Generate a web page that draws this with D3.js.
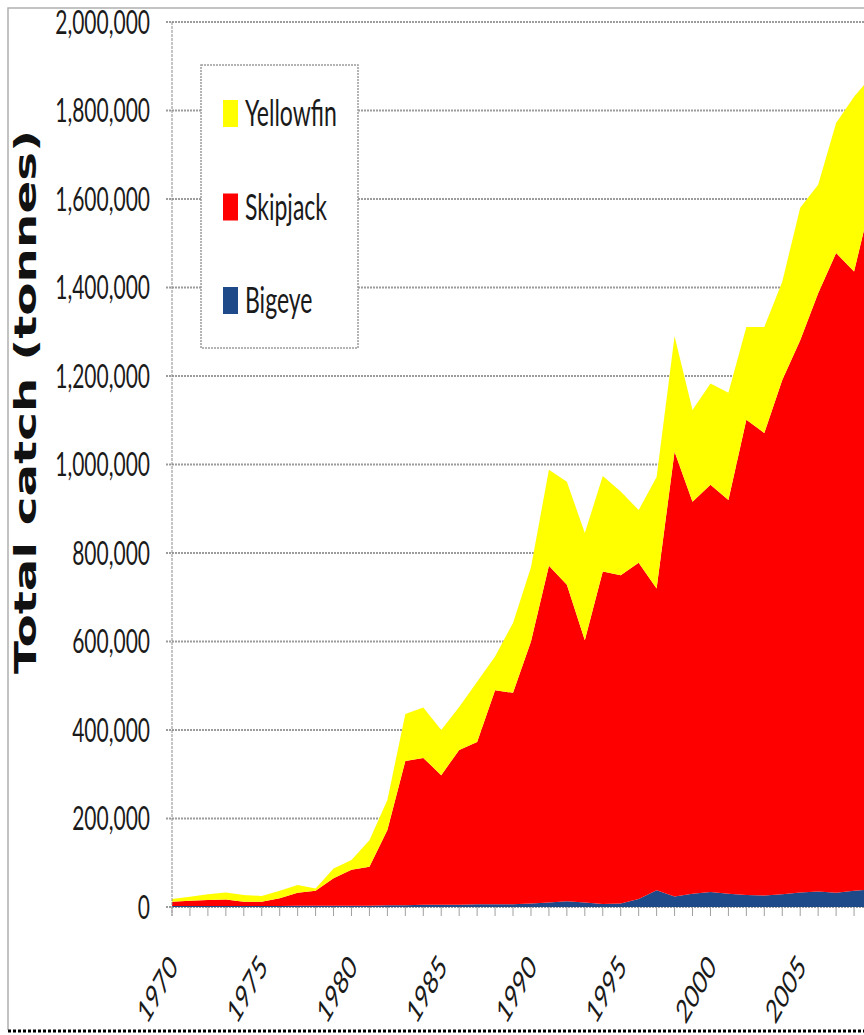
<!DOCTYPE html>
<html>
<head>
<meta charset="utf-8">
<script src="https://cdn.jsdelivr.net/npm/d3@7"></script>
<style>
  body { margin: 0; background: #fff; }
  svg { display: block; }
</style>
</head>
<body>
<script>
var width = 864,
  height = 1035;

// catch data (thousand tonnes)
var years = d3.range(1970, 2010);
var bigeye = [2, 2, 2, 2, 2, 2, 2, 3, 3, 3, 3, 3, 4, 4, 5, 5, 5, 6, 6, 6,
  8, 10, 13, 10, 7, 8, 18, 38, 24, 30, 34, 30, 27, 26, 29, 33, 35, 32, 37, 40];
var skipjack = [10, 12, 14, 15, 10, 10, 18, 29, 34, 62, 81, 88, 170, 326, 332, 293, 350, 367, 484, 478,
  592, 761, 715, 593, 751, 742, 760, 682, 1005, 886, 920, 890, 1074, 1045, 1162, 1248, 1352, 1446, 1399, 1565];
var yellowfin = [6, 9, 13, 16, 15, 13, 17, 18, 5, 22, 22, 60, 68, 106, 114, 102, 97, 136, 76, 158,
  168, 217, 233, 242, 216, 189, 119, 252, 261, 207, 229, 242, 210, 240, 222, 299, 245, 294, 395, 274];
var yTicks = [0, 200000, 400000, 600000, 800000, 1000000, 1200000, 1400000, 1600000, 1800000, 2000000];
var xLabels = [1970, 1975, 1980, 1985, 1990, 1995, 2000, 2005];
var seriesNames = ["Bigeye", "Skipjack", "Yellowfin"];
var seriesColors = { Bigeye: "#1f4a8a", Skipjack: "#ff0000", Yellowfin: "#ffff00" };

var rows = years.map(function (yr, i) {
  return { year: yr, Bigeye: bigeye[i] * 1000, Skipjack: skipjack[i] * 1000, Yellowfin: yellowfin[i] * 1000 };
});

// the picture is stretched vertically, so text gets the same stretch
var stretch = 1.56;

var svg = d3.select("body").append("svg")
  .attr("width", width)
  .attr("height", height);

var x = d3.scaleLinear().domain([1970, 2009]).range([172, 872]);
var y = d3.scaleLinear().domain([0, 2000000]).range([907, 22]);

// outer frame
svg.append("path")
  .attr("d", "M8,1030 V8 H" + width)
  .attr("fill", "none")
  .attr("stroke", "#b0b0b0")
  .attr("stroke-width", 1.5);

svg.append("line")
  .attr("x1", 8).attr("x2", width)
  .attr("y1", 1031).attr("y2", 1031)
  .attr("stroke", "#000")
  .attr("stroke-width", 3)
  .attr("stroke-dasharray", "3,2");

// gridlines
svg.append("g").selectAll("line")
  .data(yTicks)
  .enter()
  .append("line")
  .attr("x1", 166)
  .attr("x2", width)
  .attr("y1", function (d) { return y(d); })
  .attr("y2", function (d) { return y(d); })
  .attr("stroke", "#9c9c9c")
  .attr("stroke-width", 2)
  .attr("stroke-dasharray", "2,1");

// stacked areas
var stack = d3.stack().keys(seriesNames);
var layers = stack(rows);

var area = d3.area()
  .x(function (d) { return x(d.data.year); })
  .y0(function (d) { return y(d[0]); })
  .y1(function (d) { return y(d[1]); });

svg.append("g").selectAll("path")
  .data(layers)
  .enter()
  .append("path")
  .attr("d", area)
  .attr("fill", function (d) { return seriesColors[d.key]; });

// y axis line and ticks
svg.append("line")
  .attr("x1", 172).attr("x2", 172)
  .attr("y1", 22).attr("y2", 916)
  .attr("stroke", "#8a8a8a")
  .attr("stroke-width", 1)
  .attr("stroke-dasharray", "3,1");

svg.append("g").selectAll("line")
  .data(years)
  .enter()
  .append("line")
  .attr("x1", function (d) { return x(d); })
  .attr("x2", function (d) { return x(d); })
  .attr("y1", 907)
  .attr("y2", 916)
  .attr("stroke", "#a0a0a0")
  .attr("stroke-width", 1);

// y tick labels
svg.append("g").selectAll("text")
  .data(yTicks)
  .enter()
  .append("text")
  .attr("transform", function (d) { return "translate(150," + y(d) + ") scale(1," + stretch + ")"; })
  .attr("dy", "0.36em")
  .attr("text-anchor", "end")
  .attr("font-family", "Lato")
  .attr("font-size", 21)
  .attr("fill", "#1a1a1a")
  .text(d3.format(","));

// x tick labels
svg.append("g").selectAll("text")
  .data(xLabels)
  .enter()
  .append("text")
  .attr("transform", function (d) {
    return "translate(" + (x(d) + 7) + ",968) scale(1," + stretch + ") rotate(-49)";
  })
  .attr("text-anchor", "end")
  .attr("font-family", "Lato")
  .attr("font-size", 21)
  .attr("fill", "#1a1a1a")
  .text(function (d) { return d; });

// axis title
svg.append("text")
  .attr("transform", "translate(36,402) scale(1," + stretch + ") rotate(-90)")
  .attr("text-anchor", "middle")
  .attr("font-family", "DejaVu Sans")
  .attr("font-weight", "bold")
  .attr("font-size", 31)
  .attr("fill", "#111")
  .text("Total catch (tonnes)");

// legend
var legend = svg.append("g");

legend.append("rect")
  .attr("x", 201).attr("y", 65)
  .attr("width", 157).attr("height", 283)
  .attr("fill", "#fff")
  .attr("stroke", "#9c9c9c")
  .attr("stroke-width", 1.5)
  .attr("stroke-dasharray", "2,1");

var legendItems = ["Yellowfin", "Skipjack", "Bigeye"];

var item = legend.selectAll("g")
  .data(legendItems)
  .enter()
  .append("g")
  .attr("transform", function (d, i) { return "translate(0," + (i * 93.5) + ")"; });

item.append("rect")
  .attr("x", 223).attr("y", 100)
  .attr("width", 15).attr("height", 27)
  .attr("fill", function (d) { return seriesColors[d]; });

item.append("text")
  .attr("transform", "translate(245,126) scale(1," + stretch + ")")
  .attr("font-family", "Lato")
  .attr("font-size", 23)
  .attr("fill", "#1a1a1a")
  .text(function (d) { return d; });
</script>
</body>
</html>
